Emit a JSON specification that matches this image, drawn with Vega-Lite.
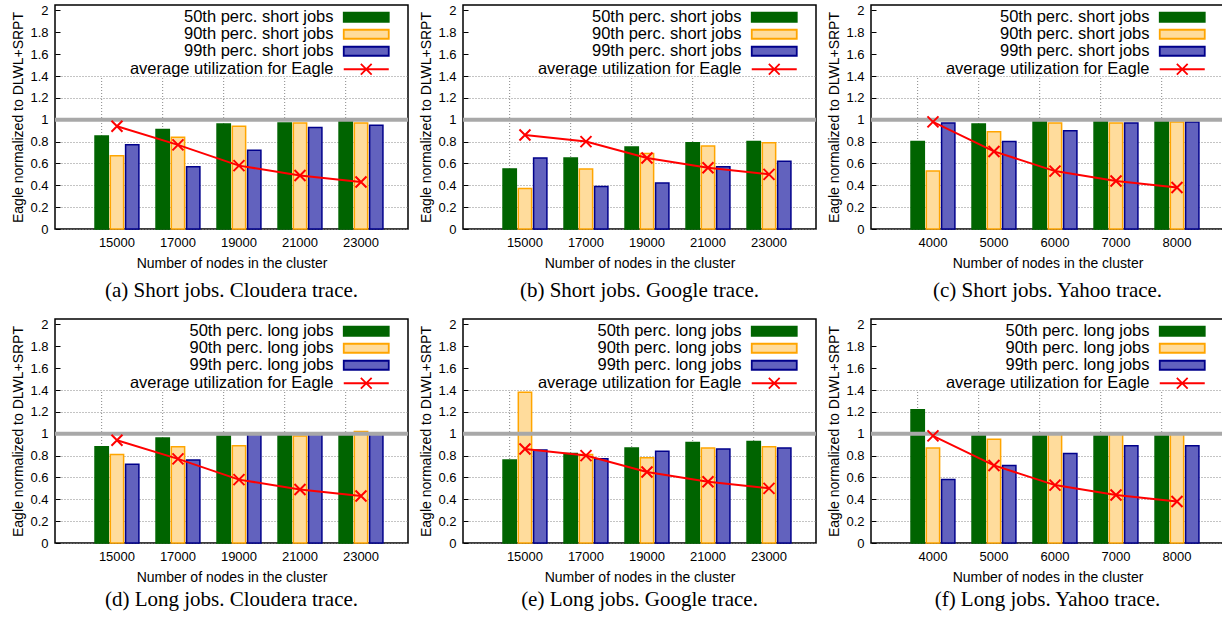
{
"$schema": "https://vega.github.io/schema/vega-lite/v6.json",
"padding": {"left": 11, "top": 3, "right": 0, "bottom": 0},
"datasets": {"d": [
{"p":"a","n":"15000","k":"50th","v":0.85},{"p":"a","n":"17000","k":"50th","v":0.91},{"p":"a","n":"19000","k":"50th","v":0.96},{"p":"a","n":"21000","k":"50th","v":0.97},{"p":"a","n":"23000","k":"50th","v":0.99},
{"p":"a","n":"15000","k":"90th","v":0.67},{"p":"a","n":"17000","k":"90th","v":0.84},{"p":"a","n":"19000","k":"90th","v":0.94},{"p":"a","n":"21000","k":"90th","v":0.97},{"p":"a","n":"23000","k":"90th","v":0.97},
{"p":"a","n":"15000","k":"99th","v":0.77},{"p":"a","n":"17000","k":"99th","v":0.57},{"p":"a","n":"19000","k":"99th","v":0.72},{"p":"a","n":"21000","k":"99th","v":0.93},{"p":"a","n":"23000","k":"99th","v":0.95},
{"p":"a","n":"15000","k":"avg","v":0.94},{"p":"a","n":"17000","k":"avg","v":0.77},{"p":"a","n":"19000","k":"avg","v":0.58},{"p":"a","n":"21000","k":"avg","v":0.49},{"p":"a","n":"23000","k":"avg","v":0.43},
{"p":"b","n":"15000","k":"50th","v":0.55},{"p":"b","n":"17000","k":"50th","v":0.65},{"p":"b","n":"19000","k":"50th","v":0.75},{"p":"b","n":"21000","k":"50th","v":0.79},{"p":"b","n":"23000","k":"50th","v":0.80},
{"p":"b","n":"15000","k":"90th","v":0.37},{"p":"b","n":"17000","k":"90th","v":0.55},{"p":"b","n":"19000","k":"90th","v":0.69},{"p":"b","n":"21000","k":"90th","v":0.76},{"p":"b","n":"23000","k":"90th","v":0.79},
{"p":"b","n":"15000","k":"99th","v":0.65},{"p":"b","n":"17000","k":"99th","v":0.39},{"p":"b","n":"19000","k":"99th","v":0.42},{"p":"b","n":"21000","k":"99th","v":0.57},{"p":"b","n":"23000","k":"99th","v":0.62},
{"p":"b","n":"15000","k":"avg","v":0.86},{"p":"b","n":"17000","k":"avg","v":0.80},{"p":"b","n":"19000","k":"avg","v":0.65},{"p":"b","n":"21000","k":"avg","v":0.56},{"p":"b","n":"23000","k":"avg","v":0.50},
{"p":"c","n":"4000","k":"50th","v":0.80},{"p":"c","n":"5000","k":"50th","v":0.96},{"p":"c","n":"6000","k":"50th","v":1.00},{"p":"c","n":"7000","k":"50th","v":1.00},{"p":"c","n":"8000","k":"50th","v":1.00},
{"p":"c","n":"4000","k":"90th","v":0.53},{"p":"c","n":"5000","k":"90th","v":0.89},{"p":"c","n":"6000","k":"90th","v":0.97},{"p":"c","n":"7000","k":"90th","v":0.97},{"p":"c","n":"8000","k":"90th","v":0.98},
{"p":"c","n":"4000","k":"99th","v":0.97},{"p":"c","n":"5000","k":"99th","v":0.80},{"p":"c","n":"6000","k":"99th","v":0.90},{"p":"c","n":"7000","k":"99th","v":0.97},{"p":"c","n":"8000","k":"99th","v":0.98},
{"p":"c","n":"4000","k":"avg","v":0.98},{"p":"c","n":"5000","k":"avg","v":0.71},{"p":"c","n":"6000","k":"avg","v":0.53},{"p":"c","n":"7000","k":"avg","v":0.44},{"p":"c","n":"8000","k":"avg","v":0.38},
{"p":"d","n":"15000","k":"50th","v":0.88},{"p":"d","n":"17000","k":"50th","v":0.96},{"p":"d","n":"19000","k":"50th","v":0.98},{"p":"d","n":"21000","k":"50th","v":1.00},{"p":"d","n":"23000","k":"50th","v":1.01},
{"p":"d","n":"15000","k":"90th","v":0.81},{"p":"d","n":"17000","k":"90th","v":0.88},{"p":"d","n":"19000","k":"90th","v":0.89},{"p":"d","n":"21000","k":"90th","v":0.98},{"p":"d","n":"23000","k":"90th","v":1.02},
{"p":"d","n":"15000","k":"99th","v":0.72},{"p":"d","n":"17000","k":"99th","v":0.76},{"p":"d","n":"19000","k":"99th","v":1.00},{"p":"d","n":"21000","k":"99th","v":1.00},{"p":"d","n":"23000","k":"99th","v":1.00},
{"p":"d","n":"15000","k":"avg","v":0.94},{"p":"d","n":"17000","k":"avg","v":0.77},{"p":"d","n":"19000","k":"avg","v":0.58},{"p":"d","n":"21000","k":"avg","v":0.49},{"p":"d","n":"23000","k":"avg","v":0.43},
{"p":"e","n":"15000","k":"50th","v":0.76},{"p":"e","n":"17000","k":"50th","v":0.82},{"p":"e","n":"19000","k":"50th","v":0.87},{"p":"e","n":"21000","k":"50th","v":0.92},{"p":"e","n":"23000","k":"50th","v":0.93},
{"p":"e","n":"15000","k":"90th","v":1.38},{"p":"e","n":"17000","k":"90th","v":0.81},{"p":"e","n":"19000","k":"90th","v":0.78},{"p":"e","n":"21000","k":"90th","v":0.87},{"p":"e","n":"23000","k":"90th","v":0.88},
{"p":"e","n":"15000","k":"99th","v":0.85},{"p":"e","n":"17000","k":"99th","v":0.77},{"p":"e","n":"19000","k":"99th","v":0.84},{"p":"e","n":"21000","k":"99th","v":0.86},{"p":"e","n":"23000","k":"99th","v":0.87},
{"p":"e","n":"15000","k":"avg","v":0.86},{"p":"e","n":"17000","k":"avg","v":0.80},{"p":"e","n":"19000","k":"avg","v":0.65},{"p":"e","n":"21000","k":"avg","v":0.56},{"p":"e","n":"23000","k":"avg","v":0.50},
{"p":"f","n":"4000","k":"50th","v":1.22},{"p":"f","n":"5000","k":"50th","v":1.01},{"p":"f","n":"6000","k":"50th","v":1.00},{"p":"f","n":"7000","k":"50th","v":1.00},{"p":"f","n":"8000","k":"50th","v":1.00},
{"p":"f","n":"4000","k":"90th","v":0.87},{"p":"f","n":"5000","k":"90th","v":0.95},{"p":"f","n":"6000","k":"90th","v":1.00},{"p":"f","n":"7000","k":"90th","v":1.01},{"p":"f","n":"8000","k":"90th","v":1.00},
{"p":"f","n":"4000","k":"99th","v":0.58},{"p":"f","n":"5000","k":"99th","v":0.71},{"p":"f","n":"6000","k":"99th","v":0.82},{"p":"f","n":"7000","k":"99th","v":0.89},{"p":"f","n":"8000","k":"99th","v":0.89},
{"p":"f","n":"4000","k":"avg","v":0.98},{"p":"f","n":"5000","k":"avg","v":0.71},{"p":"f","n":"6000","k":"avg","v":0.53},{"p":"f","n":"7000","k":"avg","v":0.44},{"p":"f","n":"8000","k":"avg","v":0.38}
]},
"data": {"name": "d"},
"columns": 3,
"spacing": {"row": 15, "column": 8},
"resolve": {"scale": {"x": "independent", "y": "independent", "xOffset": "independent", "color": "independent", "stroke": "independent", "shape": "independent"}, "legend": {"color": "independent", "stroke": "independent", "shape": "independent"}},
"concat": [
{"width": 353, "height": 224, "title": {"text": "(a) Short jobs. Cloudera trace.", "offset": 10},
 "encoding": {"y": {"field": "v", "type": "quantitative", "title": "Eagle normalized to DLWL+SRPT", "scale": {"domain": [0, 2.05], "nice": false}, "axis": {"values": [0,0.2,0.4,0.6,0.8,1,1.2,1.4,1.6,1.8,2], "format": "~g", "labelPadding": 12, "titlePadding": 4, "ticks": true, "tickSize": -5, "tickColor": "black", "grid": true, "gridColor": "#888888", "gridDash": [1,2], "gridOpacity": {"condition": {"test": "datum.value > 1.5", "value": 0}, "value": 1}}}},
 "layer": [
  {"transform": [{"filter": "datum.p=='a' && datum.k=='avg'"}], "mark": {"type": "rule", "color": "#888888", "strokeDash": [1,2], "strokeWidth": 1},
   "encoding": {"x": {"field": "n", "type": "nominal", "bandPosition": 0.249, "title": "Number of nodes in the cluster", "scale": {"domain": ["15000","17000","19000","21000","23000"], "paddingInner": 0, "paddingOuter": 0.393, "align": 0.656}, "axis": {"labelAngle": 0, "labelPadding": 7, "titlePadding": 7, "grid": false}}, "y": {"datum": 0}, "y2": {"datum": 1.4}}},
  {"transform": [{"filter": "datum.p=='a' && datum.k!='avg'"}], "mark": {"type": "bar", "strokeWidth": 1.5, "opacity": 1},
   "encoding": {"x": {"field": "n", "type": "nominal", "title": "Number of nodes in the cluster"},
    "xOffset": {"field": "k", "type": "nominal", "scale": {"domain": ["50th","90th","99th"], "paddingInner": 0.13, "paddingOuter": 0.56}},
    "color": {"field": "k", "type": "nominal", "scale": {"domain": ["50th","90th","99th","avg"], "range": ["#006400","#ffdc9c","#6262be","#ff0000"]},
      "legend": {"title": null, "orient": "none", "legendX": 303, "legendY": 4, "labelExpr": "datum.value=='avg' ? 'average utilization for Eagle' : datum.value + ' perc. short jobs'"}},
    "stroke": {"field": "k", "type": "nominal", "scale": {"domain": ["50th","90th","99th","avg"], "range": ["#006400","#ffa500","#00008b","#ff0000"]},
      "legend": {"title": null, "orient": "none", "legendX": 303, "legendY": 4, "labelExpr": "datum.value=='avg' ? 'average utilization for Eagle' : datum.value + ' perc. short jobs'"}}}},
  {"data": {"values": [{"ref": 1}]}, "mark": {"type": "rule", "color": "#a8a8a8", "strokeWidth": 4}, "encoding": {"y": {"field": "ref", "type": "quantitative"}}},
  {"transform": [{"filter": "datum.p=='a' && datum.k=='avg'"}], "mark": {"type": "line", "strokeWidth": 2},
   "encoding": {"x": {"field": "n", "type": "nominal", "title": "Number of nodes in the cluster"}, "stroke": {"field": "k", "type": "nominal"}}},
  {"transform": [{"filter": "datum.p=='a' && datum.k=='avg'"}], "mark": {"type": "point", "shape": "M-1,-1L1,1M-1,1L1,-1", "filled": false, "size": 121, "strokeWidth": 2, "color": "#ff0000", "opacity": 1},
   "encoding": {"x": {"field": "n", "type": "nominal", "title": "Number of nodes in the cluster"}}},
  {"transform": [{"filter": "datum.p=='a' && datum.k=='avg'"}], "mark": {"type": "point", "opacity": 0},
   "encoding": {"x": {"field": "n", "type": "nominal", "title": "Number of nodes in the cluster"},
    "shape": {"field": "k", "type": "nominal", "scale": {"domain": ["50th","90th","99th","avg"], "range": ["M-5,-1H5V1H-5Z","M-5,-1H5V1H-5Z","M-5,-1H5V1H-5Z","M-5,0H5M-1.2,-1.2L1.2,1.2M-1.2,1.2L1.2,-1.2"]},
      "legend": {"title": null, "orient": "none", "legendX": 303, "legendY": 4, "labelExpr": "datum.value=='avg' ? 'average utilization for Eagle' : datum.value + ' perc. short jobs'"}}}}
 ]},
{"width": 353, "height": 224, "title": {"text": "(b) Short jobs. Google trace.", "offset": 10},
 "encoding": {"y": {"field": "v", "type": "quantitative", "title": "Eagle normalized to DLWL+SRPT", "scale": {"domain": [0, 2.05], "nice": false}, "axis": {"values": [0,0.2,0.4,0.6,0.8,1,1.2,1.4,1.6,1.8,2], "format": "~g", "labelPadding": 12, "titlePadding": 4, "ticks": true, "tickSize": -5, "tickColor": "black", "grid": true, "gridColor": "#888888", "gridDash": [1,2], "gridOpacity": {"condition": {"test": "datum.value > 1.5", "value": 0}, "value": 1}}}},
 "layer": [
  {"transform": [{"filter": "datum.p=='b' && datum.k=='avg'"}], "mark": {"type": "rule", "color": "#888888", "strokeDash": [1,2], "strokeWidth": 1},
   "encoding": {"x": {"field": "n", "type": "nominal", "bandPosition": 0.249, "title": "Number of nodes in the cluster", "scale": {"domain": ["15000","17000","19000","21000","23000"], "paddingInner": 0, "paddingOuter": 0.393, "align": 0.656}, "axis": {"labelAngle": 0, "labelPadding": 7, "titlePadding": 7, "grid": false}}, "y": {"datum": 0}, "y2": {"datum": 1.4}}},
  {"transform": [{"filter": "datum.p=='b' && datum.k!='avg'"}], "mark": {"type": "bar", "strokeWidth": 1.5, "opacity": 1},
   "encoding": {"x": {"field": "n", "type": "nominal", "title": "Number of nodes in the cluster"},
    "xOffset": {"field": "k", "type": "nominal", "scale": {"domain": ["50th","90th","99th"], "paddingInner": 0.13, "paddingOuter": 0.56}},
    "color": {"field": "k", "type": "nominal", "scale": {"domain": ["50th","90th","99th","avg"], "range": ["#006400","#ffdc9c","#6262be","#ff0000"]},
      "legend": {"title": null, "orient": "none", "legendX": 303, "legendY": 4, "labelExpr": "datum.value=='avg' ? 'average utilization for Eagle' : datum.value + ' perc. short jobs'"}},
    "stroke": {"field": "k", "type": "nominal", "scale": {"domain": ["50th","90th","99th","avg"], "range": ["#006400","#ffa500","#00008b","#ff0000"]},
      "legend": {"title": null, "orient": "none", "legendX": 303, "legendY": 4, "labelExpr": "datum.value=='avg' ? 'average utilization for Eagle' : datum.value + ' perc. short jobs'"}}}},
  {"data": {"values": [{"ref": 1}]}, "mark": {"type": "rule", "color": "#a8a8a8", "strokeWidth": 4}, "encoding": {"y": {"field": "ref", "type": "quantitative"}}},
  {"transform": [{"filter": "datum.p=='b' && datum.k=='avg'"}], "mark": {"type": "line", "strokeWidth": 2},
   "encoding": {"x": {"field": "n", "type": "nominal", "title": "Number of nodes in the cluster"}, "stroke": {"field": "k", "type": "nominal"}}},
  {"transform": [{"filter": "datum.p=='b' && datum.k=='avg'"}], "mark": {"type": "point", "shape": "M-1,-1L1,1M-1,1L1,-1", "filled": false, "size": 121, "strokeWidth": 2, "color": "#ff0000", "opacity": 1},
   "encoding": {"x": {"field": "n", "type": "nominal", "title": "Number of nodes in the cluster"}}},
  {"transform": [{"filter": "datum.p=='b' && datum.k=='avg'"}], "mark": {"type": "point", "opacity": 0},
   "encoding": {"x": {"field": "n", "type": "nominal", "title": "Number of nodes in the cluster"},
    "shape": {"field": "k", "type": "nominal", "scale": {"domain": ["50th","90th","99th","avg"], "range": ["M-5,-1H5V1H-5Z","M-5,-1H5V1H-5Z","M-5,-1H5V1H-5Z","M-5,0H5M-1.2,-1.2L1.2,1.2M-1.2,1.2L1.2,-1.2"]},
      "legend": {"title": null, "orient": "none", "legendX": 303, "legendY": 4, "labelExpr": "datum.value=='avg' ? 'average utilization for Eagle' : datum.value + ' perc. short jobs'"}}}}
 ]},
{"width": 353, "height": 224, "title": {"text": "(c) Short jobs. Yahoo trace.", "offset": 10},
 "encoding": {"y": {"field": "v", "type": "quantitative", "title": "Eagle normalized to DLWL+SRPT", "scale": {"domain": [0, 2.05], "nice": false}, "axis": {"values": [0,0.2,0.4,0.6,0.8,1,1.2,1.4,1.6,1.8,2], "format": "~g", "labelPadding": 12, "titlePadding": 4, "ticks": true, "tickSize": -5, "tickColor": "black", "grid": true, "gridColor": "#888888", "gridDash": [1,2], "gridOpacity": {"condition": {"test": "datum.value > 1.5", "value": 0}, "value": 1}}}},
 "layer": [
  {"transform": [{"filter": "datum.p=='c' && datum.k=='avg'"}], "mark": {"type": "rule", "color": "#888888", "strokeDash": [1,2], "strokeWidth": 1},
   "encoding": {"x": {"field": "n", "type": "nominal", "bandPosition": 0.249, "title": "Number of nodes in the cluster", "scale": {"domain": ["4000","5000","6000","7000","8000"], "paddingInner": 0, "paddingOuter": 0.393, "align": 0.656}, "axis": {"labelAngle": 0, "labelPadding": 7, "titlePadding": 7, "grid": false}}, "y": {"datum": 0}, "y2": {"datum": 1.4}}},
  {"transform": [{"filter": "datum.p=='c' && datum.k!='avg'"}], "mark": {"type": "bar", "strokeWidth": 1.5, "opacity": 1},
   "encoding": {"x": {"field": "n", "type": "nominal", "title": "Number of nodes in the cluster"},
    "xOffset": {"field": "k", "type": "nominal", "scale": {"domain": ["50th","90th","99th"], "paddingInner": 0.13, "paddingOuter": 0.56}},
    "color": {"field": "k", "type": "nominal", "scale": {"domain": ["50th","90th","99th","avg"], "range": ["#006400","#ffdc9c","#6262be","#ff0000"]},
      "legend": {"title": null, "orient": "none", "legendX": 303, "legendY": 4, "labelExpr": "datum.value=='avg' ? 'average utilization for Eagle' : datum.value + ' perc. short jobs'"}},
    "stroke": {"field": "k", "type": "nominal", "scale": {"domain": ["50th","90th","99th","avg"], "range": ["#006400","#ffa500","#00008b","#ff0000"]},
      "legend": {"title": null, "orient": "none", "legendX": 303, "legendY": 4, "labelExpr": "datum.value=='avg' ? 'average utilization for Eagle' : datum.value + ' perc. short jobs'"}}}},
  {"data": {"values": [{"ref": 1}]}, "mark": {"type": "rule", "color": "#a8a8a8", "strokeWidth": 4}, "encoding": {"y": {"field": "ref", "type": "quantitative"}}},
  {"transform": [{"filter": "datum.p=='c' && datum.k=='avg'"}], "mark": {"type": "line", "strokeWidth": 2},
   "encoding": {"x": {"field": "n", "type": "nominal", "title": "Number of nodes in the cluster"}, "stroke": {"field": "k", "type": "nominal"}}},
  {"transform": [{"filter": "datum.p=='c' && datum.k=='avg'"}], "mark": {"type": "point", "shape": "M-1,-1L1,1M-1,1L1,-1", "filled": false, "size": 121, "strokeWidth": 2, "color": "#ff0000", "opacity": 1},
   "encoding": {"x": {"field": "n", "type": "nominal", "title": "Number of nodes in the cluster"}}},
  {"transform": [{"filter": "datum.p=='c' && datum.k=='avg'"}], "mark": {"type": "point", "opacity": 0},
   "encoding": {"x": {"field": "n", "type": "nominal", "title": "Number of nodes in the cluster"},
    "shape": {"field": "k", "type": "nominal", "scale": {"domain": ["50th","90th","99th","avg"], "range": ["M-5,-1H5V1H-5Z","M-5,-1H5V1H-5Z","M-5,-1H5V1H-5Z","M-5,0H5M-1.2,-1.2L1.2,1.2M-1.2,1.2L1.2,-1.2"]},
      "legend": {"title": null, "orient": "none", "legendX": 303, "legendY": 4, "labelExpr": "datum.value=='avg' ? 'average utilization for Eagle' : datum.value + ' perc. short jobs'"}}}}
 ]},
{"width": 353, "height": 224, "title": {"text": "(d) Long jobs. Cloudera trace.", "offset": 5},
 "encoding": {"y": {"field": "v", "type": "quantitative", "title": "Eagle normalized to DLWL+SRPT", "scale": {"domain": [0, 2.05], "nice": false}, "axis": {"values": [0,0.2,0.4,0.6,0.8,1,1.2,1.4,1.6,1.8,2], "format": "~g", "labelPadding": 12, "titlePadding": 4, "ticks": true, "tickSize": -5, "tickColor": "black", "grid": true, "gridColor": "#888888", "gridDash": [1,2], "gridOpacity": {"condition": {"test": "datum.value > 1.5", "value": 0}, "value": 1}}}},
 "layer": [
  {"transform": [{"filter": "datum.p=='d' && datum.k=='avg'"}], "mark": {"type": "rule", "color": "#888888", "strokeDash": [1,2], "strokeWidth": 1},
   "encoding": {"x": {"field": "n", "type": "nominal", "bandPosition": 0.249, "title": "Number of nodes in the cluster", "scale": {"domain": ["15000","17000","19000","21000","23000"], "paddingInner": 0, "paddingOuter": 0.393, "align": 0.656}, "axis": {"labelAngle": 0, "labelPadding": 7, "titlePadding": 7, "grid": false}}, "y": {"datum": 0}, "y2": {"datum": 1.4}}},
  {"transform": [{"filter": "datum.p=='d' && datum.k!='avg'"}], "mark": {"type": "bar", "strokeWidth": 1.5, "opacity": 1},
   "encoding": {"x": {"field": "n", "type": "nominal", "title": "Number of nodes in the cluster"},
    "xOffset": {"field": "k", "type": "nominal", "scale": {"domain": ["50th","90th","99th"], "paddingInner": 0.13, "paddingOuter": 0.56}},
    "color": {"field": "k", "type": "nominal", "scale": {"domain": ["50th","90th","99th","avg"], "range": ["#006400","#ffdc9c","#6262be","#ff0000"]},
      "legend": {"title": null, "orient": "none", "legendX": 303, "legendY": 4, "labelExpr": "datum.value=='avg' ? 'average utilization for Eagle' : datum.value + ' perc. long jobs'"}},
    "stroke": {"field": "k", "type": "nominal", "scale": {"domain": ["50th","90th","99th","avg"], "range": ["#006400","#ffa500","#00008b","#ff0000"]},
      "legend": {"title": null, "orient": "none", "legendX": 303, "legendY": 4, "labelExpr": "datum.value=='avg' ? 'average utilization for Eagle' : datum.value + ' perc. long jobs'"}}}},
  {"data": {"values": [{"ref": 1}]}, "mark": {"type": "rule", "color": "#a8a8a8", "strokeWidth": 4}, "encoding": {"y": {"field": "ref", "type": "quantitative"}}},
  {"transform": [{"filter": "datum.p=='d' && datum.k=='avg'"}], "mark": {"type": "line", "strokeWidth": 2},
   "encoding": {"x": {"field": "n", "type": "nominal", "title": "Number of nodes in the cluster"}, "stroke": {"field": "k", "type": "nominal"}}},
  {"transform": [{"filter": "datum.p=='d' && datum.k=='avg'"}], "mark": {"type": "point", "shape": "M-1,-1L1,1M-1,1L1,-1", "filled": false, "size": 121, "strokeWidth": 2, "color": "#ff0000", "opacity": 1},
   "encoding": {"x": {"field": "n", "type": "nominal", "title": "Number of nodes in the cluster"}}},
  {"transform": [{"filter": "datum.p=='d' && datum.k=='avg'"}], "mark": {"type": "point", "opacity": 0},
   "encoding": {"x": {"field": "n", "type": "nominal", "title": "Number of nodes in the cluster"},
    "shape": {"field": "k", "type": "nominal", "scale": {"domain": ["50th","90th","99th","avg"], "range": ["M-5,-1H5V1H-5Z","M-5,-1H5V1H-5Z","M-5,-1H5V1H-5Z","M-5,0H5M-1.2,-1.2L1.2,1.2M-1.2,1.2L1.2,-1.2"]},
      "legend": {"title": null, "orient": "none", "legendX": 303, "legendY": 4, "labelExpr": "datum.value=='avg' ? 'average utilization for Eagle' : datum.value + ' perc. long jobs'"}}}}
 ]},
{"width": 353, "height": 224, "title": {"text": "(e) Long jobs. Google trace.", "offset": 5},
 "encoding": {"y": {"field": "v", "type": "quantitative", "title": "Eagle normalized to DLWL+SRPT", "scale": {"domain": [0, 2.05], "nice": false}, "axis": {"values": [0,0.2,0.4,0.6,0.8,1,1.2,1.4,1.6,1.8,2], "format": "~g", "labelPadding": 12, "titlePadding": 4, "ticks": true, "tickSize": -5, "tickColor": "black", "grid": true, "gridColor": "#888888", "gridDash": [1,2], "gridOpacity": {"condition": {"test": "datum.value > 1.5", "value": 0}, "value": 1}}}},
 "layer": [
  {"transform": [{"filter": "datum.p=='e' && datum.k=='avg'"}], "mark": {"type": "rule", "color": "#888888", "strokeDash": [1,2], "strokeWidth": 1},
   "encoding": {"x": {"field": "n", "type": "nominal", "bandPosition": 0.249, "title": "Number of nodes in the cluster", "scale": {"domain": ["15000","17000","19000","21000","23000"], "paddingInner": 0, "paddingOuter": 0.393, "align": 0.656}, "axis": {"labelAngle": 0, "labelPadding": 7, "titlePadding": 7, "grid": false}}, "y": {"datum": 0}, "y2": {"datum": 1.4}}},
  {"transform": [{"filter": "datum.p=='e' && datum.k!='avg'"}], "mark": {"type": "bar", "strokeWidth": 1.5, "opacity": 1},
   "encoding": {"x": {"field": "n", "type": "nominal", "title": "Number of nodes in the cluster"},
    "xOffset": {"field": "k", "type": "nominal", "scale": {"domain": ["50th","90th","99th"], "paddingInner": 0.13, "paddingOuter": 0.56}},
    "color": {"field": "k", "type": "nominal", "scale": {"domain": ["50th","90th","99th","avg"], "range": ["#006400","#ffdc9c","#6262be","#ff0000"]},
      "legend": {"title": null, "orient": "none", "legendX": 303, "legendY": 4, "labelExpr": "datum.value=='avg' ? 'average utilization for Eagle' : datum.value + ' perc. long jobs'"}},
    "stroke": {"field": "k", "type": "nominal", "scale": {"domain": ["50th","90th","99th","avg"], "range": ["#006400","#ffa500","#00008b","#ff0000"]},
      "legend": {"title": null, "orient": "none", "legendX": 303, "legendY": 4, "labelExpr": "datum.value=='avg' ? 'average utilization for Eagle' : datum.value + ' perc. long jobs'"}}}},
  {"data": {"values": [{"ref": 1}]}, "mark": {"type": "rule", "color": "#a8a8a8", "strokeWidth": 4}, "encoding": {"y": {"field": "ref", "type": "quantitative"}}},
  {"transform": [{"filter": "datum.p=='e' && datum.k=='avg'"}], "mark": {"type": "line", "strokeWidth": 2},
   "encoding": {"x": {"field": "n", "type": "nominal", "title": "Number of nodes in the cluster"}, "stroke": {"field": "k", "type": "nominal"}}},
  {"transform": [{"filter": "datum.p=='e' && datum.k=='avg'"}], "mark": {"type": "point", "shape": "M-1,-1L1,1M-1,1L1,-1", "filled": false, "size": 121, "strokeWidth": 2, "color": "#ff0000", "opacity": 1},
   "encoding": {"x": {"field": "n", "type": "nominal", "title": "Number of nodes in the cluster"}}},
  {"transform": [{"filter": "datum.p=='e' && datum.k=='avg'"}], "mark": {"type": "point", "opacity": 0},
   "encoding": {"x": {"field": "n", "type": "nominal", "title": "Number of nodes in the cluster"},
    "shape": {"field": "k", "type": "nominal", "scale": {"domain": ["50th","90th","99th","avg"], "range": ["M-5,-1H5V1H-5Z","M-5,-1H5V1H-5Z","M-5,-1H5V1H-5Z","M-5,0H5M-1.2,-1.2L1.2,1.2M-1.2,1.2L1.2,-1.2"]},
      "legend": {"title": null, "orient": "none", "legendX": 303, "legendY": 4, "labelExpr": "datum.value=='avg' ? 'average utilization for Eagle' : datum.value + ' perc. long jobs'"}}}}
 ]},
{"width": 353, "height": 224, "title": {"text": "(f) Long jobs. Yahoo trace.", "offset": 5},
 "encoding": {"y": {"field": "v", "type": "quantitative", "title": "Eagle normalized to DLWL+SRPT", "scale": {"domain": [0, 2.05], "nice": false}, "axis": {"values": [0,0.2,0.4,0.6,0.8,1,1.2,1.4,1.6,1.8,2], "format": "~g", "labelPadding": 12, "titlePadding": 4, "ticks": true, "tickSize": -5, "tickColor": "black", "grid": true, "gridColor": "#888888", "gridDash": [1,2], "gridOpacity": {"condition": {"test": "datum.value > 1.5", "value": 0}, "value": 1}}}},
 "layer": [
  {"transform": [{"filter": "datum.p=='f' && datum.k=='avg'"}], "mark": {"type": "rule", "color": "#888888", "strokeDash": [1,2], "strokeWidth": 1},
   "encoding": {"x": {"field": "n", "type": "nominal", "bandPosition": 0.249, "title": "Number of nodes in the cluster", "scale": {"domain": ["4000","5000","6000","7000","8000"], "paddingInner": 0, "paddingOuter": 0.393, "align": 0.656}, "axis": {"labelAngle": 0, "labelPadding": 7, "titlePadding": 7, "grid": false}}, "y": {"datum": 0}, "y2": {"datum": 1.4}}},
  {"transform": [{"filter": "datum.p=='f' && datum.k!='avg'"}], "mark": {"type": "bar", "strokeWidth": 1.5, "opacity": 1},
   "encoding": {"x": {"field": "n", "type": "nominal", "title": "Number of nodes in the cluster"},
    "xOffset": {"field": "k", "type": "nominal", "scale": {"domain": ["50th","90th","99th"], "paddingInner": 0.13, "paddingOuter": 0.56}},
    "color": {"field": "k", "type": "nominal", "scale": {"domain": ["50th","90th","99th","avg"], "range": ["#006400","#ffdc9c","#6262be","#ff0000"]},
      "legend": {"title": null, "orient": "none", "legendX": 303, "legendY": 4, "labelExpr": "datum.value=='avg' ? 'average utilization for Eagle' : datum.value + ' perc. long jobs'"}},
    "stroke": {"field": "k", "type": "nominal", "scale": {"domain": ["50th","90th","99th","avg"], "range": ["#006400","#ffa500","#00008b","#ff0000"]},
      "legend": {"title": null, "orient": "none", "legendX": 303, "legendY": 4, "labelExpr": "datum.value=='avg' ? 'average utilization for Eagle' : datum.value + ' perc. long jobs'"}}}},
  {"data": {"values": [{"ref": 1}]}, "mark": {"type": "rule", "color": "#a8a8a8", "strokeWidth": 4}, "encoding": {"y": {"field": "ref", "type": "quantitative"}}},
  {"transform": [{"filter": "datum.p=='f' && datum.k=='avg'"}], "mark": {"type": "line", "strokeWidth": 2},
   "encoding": {"x": {"field": "n", "type": "nominal", "title": "Number of nodes in the cluster"}, "stroke": {"field": "k", "type": "nominal"}}},
  {"transform": [{"filter": "datum.p=='f' && datum.k=='avg'"}], "mark": {"type": "point", "shape": "M-1,-1L1,1M-1,1L1,-1", "filled": false, "size": 121, "strokeWidth": 2, "color": "#ff0000", "opacity": 1},
   "encoding": {"x": {"field": "n", "type": "nominal", "title": "Number of nodes in the cluster"}}},
  {"transform": [{"filter": "datum.p=='f' && datum.k=='avg'"}], "mark": {"type": "point", "opacity": 0},
   "encoding": {"x": {"field": "n", "type": "nominal", "title": "Number of nodes in the cluster"},
    "shape": {"field": "k", "type": "nominal", "scale": {"domain": ["50th","90th","99th","avg"], "range": ["M-5,-1H5V1H-5Z","M-5,-1H5V1H-5Z","M-5,-1H5V1H-5Z","M-5,0H5M-1.2,-1.2L1.2,1.2M-1.2,1.2L1.2,-1.2"]},
      "legend": {"title": null, "orient": "none", "legendX": 303, "legendY": 4, "labelExpr": "datum.value=='avg' ? 'average utilization for Eagle' : datum.value + ' perc. long jobs'"}}}}
 ]}
],
"config": {
 "font": "Liberation Sans",
 "view": {"stroke": "black", "strokeWidth": 1.5},
 "axis": {"labelColor": "black", "titleColor": "black", "titleFontWeight": "normal", "labelFontSize": 13, "titleFontSize": 14, "domain": false, "ticks": false, "tickSize": 0},
 "legend": {"labelFontSize": 16.5, "labelColor": "black", "labelAlign": "right", "labelOffset": -41, "symbolSize": 81, "symbolOpacity": 1, "symbolStrokeWidth": 1.8, "rowPadding": 0, "padding": 0, "labelLimit": 400},
 "title": {"font": "Liberation Serif", "fontSize": 21, "fontWeight": "normal", "color": "black", "orient": "bottom"}
}
}
